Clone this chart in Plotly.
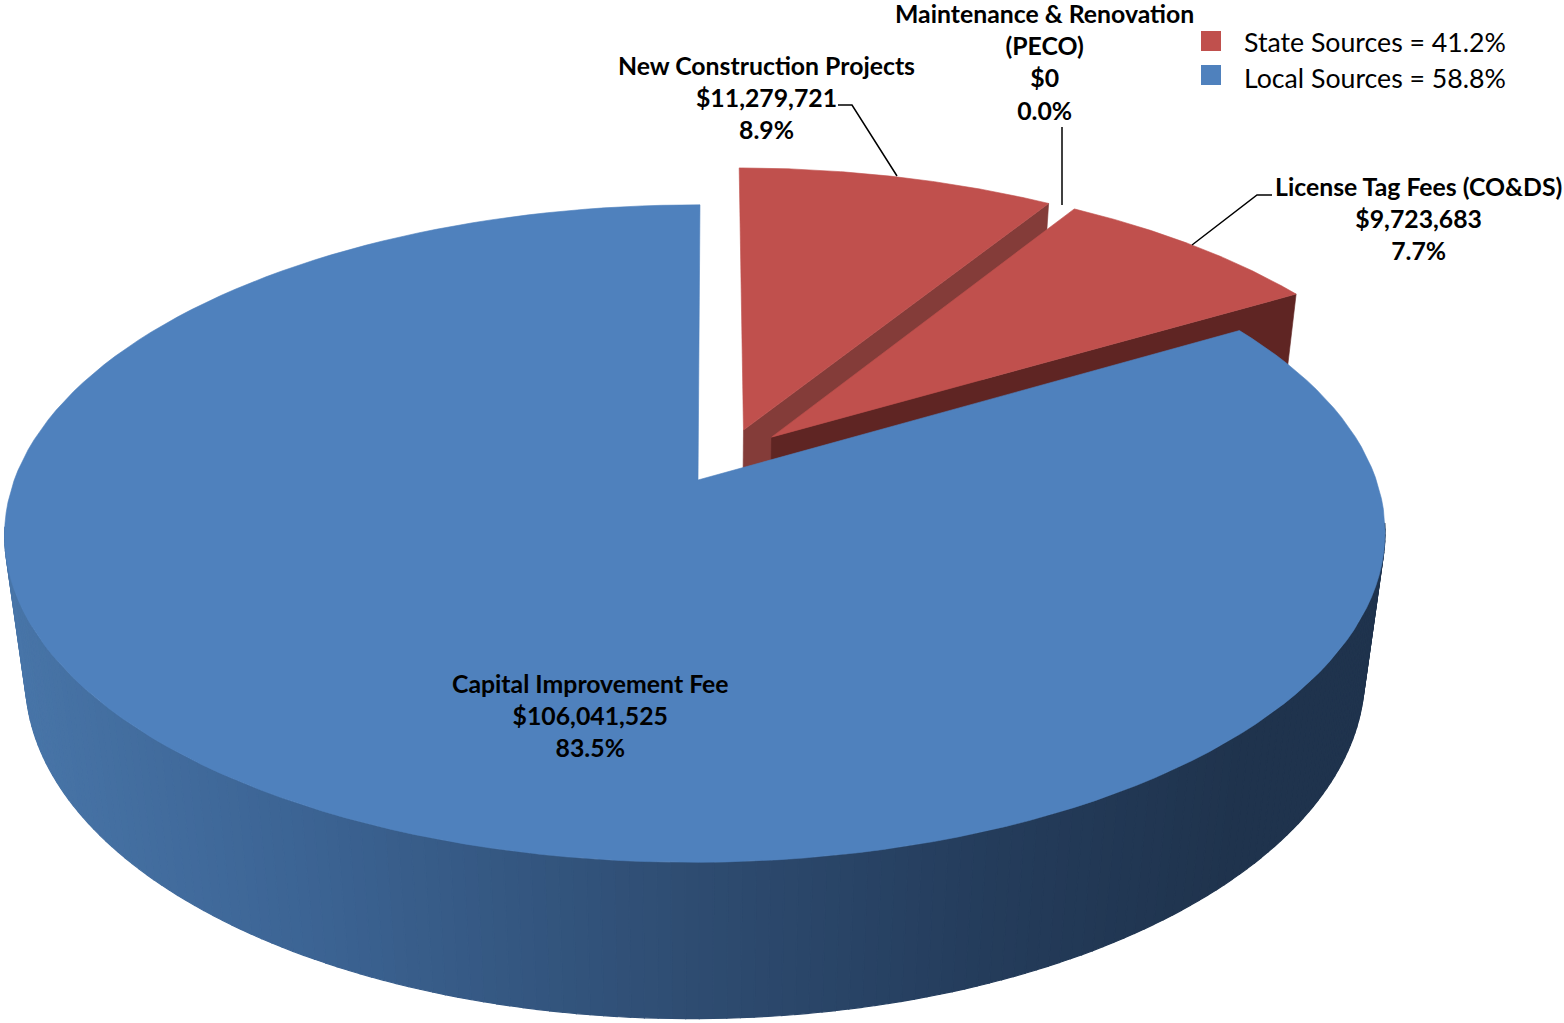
import math
import plotly.graph_objects as go

# ---- data ----
categories = ["New Construction Projects", "Maintenance & Renovation (PECO)", "License Tag Fees (CO&DS)", "Capital Improvement Fee"]
values = [11279721, 0, 9723683, 106041525]
value_labels = ["$11,279,721", "$0", "$9,723,683", "$106,041,525"]
percent_labels = ["8.9%", "0.0%", "7.7%", "83.5%"]
legend_labels = ["State Sources = 41.2%", "Local Sources = 58.8%"]

# ---- style and projection of the tilted pie ----
RED, BLUE = "#c0504d", "#4f81bd"
RED_END, RED_WALL = "#843c39", "#5f2523"
X0, Y0, A, B, D, C = 698.0, 480.0, 681.0, 320.0, 147.0, 2.3
K, M, N = 0.163, 0.004, 0.03
OFFSETS = [(0.068, 0.16), (0, 0), (0.110, 0.137), (0, 0)]
FONT = "Lato"
FS = 24.8
LEGEND_FS = 26.7

def project(u, v, d=0.0):
    w = 1 + K * v + M * u + N * d
    return X0 + (A * u + C * v) / w, Y0 - (B * v - D * d) / w

def rim(a0, a1, off, d=0.0, n=160):
    pts = []
    for i in range(n + 1):
        t = math.radians(a0 + (a1 - a0) * i / n)
        pts.append(project(off[0] + math.sin(t), off[1] + math.cos(t), d))
    return pts

def poly(pts, color, name, lw=0.6):
    xs = [p[0] for p in pts] + [pts[0][0]]
    ys = [p[1] for p in pts] + [pts[0][1]]
    return go.Scatter(x=xs, y=ys, mode="lines", fill="toself", fillcolor=color,
                      line=dict(color=color, width=lw), hoverinfo="skip", showlegend=False, name=name)

total = sum(values)
angles = []
acc = 0.0
for val in values:
    angles.append((acc, acc + 360 * val / total))
    acc += 360 * val / total

traces = []

def end_face(i, a, color):
    off = OFFSETS[i]
    t = math.radians(a)
    ou, ov = off[0] + math.sin(t), off[1] + math.cos(t)
    return poly([project(off[0], off[1]), project(ou, ov), project(ou, ov, 1), project(off[0], off[1], 1)], color, categories[i])

def top_face(i, color):
    off = OFFSETS[i]
    return poly([project(off[0], off[1])] + rim(*angles[i], off), color, categories[i])

# New Construction: end face and top
traces.append(end_face(0, angles[0][1], RED_END))
traces.append(top_face(0, RED))
# License: end face and top
traces.append(end_face(2, angles[2][1], RED_WALL))
traces.append(top_face(2, RED))

# blue outer wall, gradient by screen x
def lerp_stops(x):
    stops = [(0, (72, 117, 168)), (300, (60, 100, 148)), (700, (46, 76, 113)), (1000, (36, 60, 91)), (1250, (31, 51, 77)), (1400, (31, 51, 77))]
    for (x0, c0), (x1, c1) in zip(stops, stops[1:]):
        if x <= x1:
            f = max(0, (x - x0) / (x1 - x0))
            return "rgb(%d,%d,%d)" % tuple(round(c0[j] + (c1[j] - c0[j]) * f) for j in range(3))
    return "rgb(31,51,77)"

a0, a1 = angles[3]
steps = int(a1 - a0)
for s in range(steps):
    p0 = a0 + (a1 - a0) * s / steps
    p1 = a0 + (a1 - a0) * (s + 1) / steps
    top = rim(p0, p1, OFFSETS[3], 0, 2)
    bot = rim(p0, p1, OFFSETS[3], 1, 2)
    if top[0][1] < 528 and top[-1][1] < 528:
        continue  # the back of the rim lies behind the top face
    traces.append(poly(top + bot[::-1], lerp_stops(top[0][0]), categories[3], lw=1.2))
traces.append(top_face(3, BLUE))

# leader lines
leaders = [
    ([838, 852, 897], [105, 105, 176]),
    ([1062, 1062], [127, 205]),
    ([1272, 1257, 1192], [195, 195, 245]),
]
for lx, ly in leaders:
    traces.append(go.Scatter(x=lx, y=ly, mode="lines", line=dict(color="#000000", width=1.5), hoverinfo="skip", showlegend=False))

fig = go.Figure(traces)

label_pos = [(766, 97), (1044, 62), (1418, 218), (590, 715)]
for i, (lx, ly) in enumerate(label_pos):
    name = categories[i].replace("Renovation (", "Renovation<br>(")
    fig.add_annotation(x=lx, y=ly, xref="x", yref="y", showarrow=False, align="center",
                       text="<b>%s<br>%s<br>%s</b>" % (name, value_labels[i], percent_labels[i]),
                       font=dict(family=FONT, size=FS, color="#000000"))

legend_rows = [(RED, 41, 42), (BLUE, 75, 78)]
for (col, y, ty), text in zip(legend_rows, legend_labels):
    fig.add_shape(type="rect", x0=1201, x1=1221, y0=y - 10, y1=y + 10, xref="x", yref="y", fillcolor=col, line_width=0)
    fig.add_annotation(x=1244, y=ty, xref="x", yref="y", xanchor="left", xshift=-2, showarrow=False, text=text,
                       font=dict(family=FONT, size=LEGEND_FS, color="#000000"))

fig.update_layout(width=1564, height=1023, margin=dict(l=0, r=0, t=0, b=0),
                  paper_bgcolor="white", plot_bgcolor="white", showlegend=False,
                  xaxis=dict(range=[0, 1564], visible=False, fixedrange=True),
                  yaxis=dict(range=[1023, 0], visible=False, fixedrange=True))
fig.write_html("out.html", config={"displayModeBar": False},
               post_script="document.body.style.margin='0';document.documentElement.style.overflow='hidden';")
